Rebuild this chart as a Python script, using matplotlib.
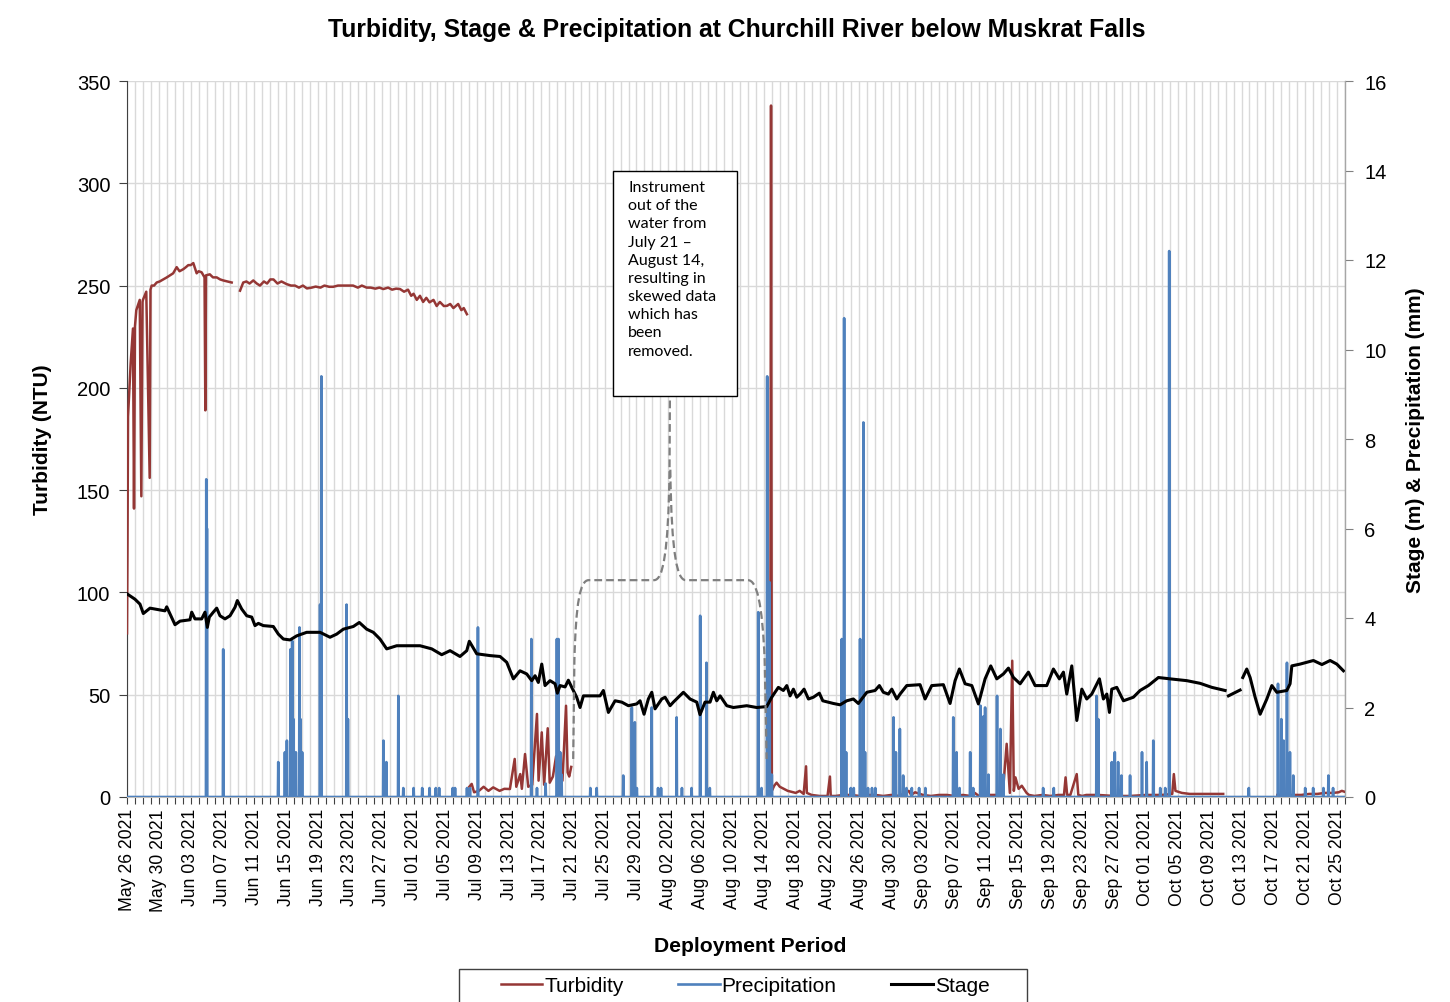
import numpy as np
import pandas as pd
import matplotlib
matplotlib.use("Agg")
import matplotlib.pyplot as plt
import matplotlib.dates as mdates
from matplotlib.path import Path
from matplotlib.patches import PathPatch, Rectangle
from matplotlib.lines import Line2D

plt.rcParams['font.family'] = ['Liberation Sans', 'DejaVu Sans']

START = pd.Timestamp("2021-05-26 00:00")
END = pd.Timestamp("2021-10-26 00:00")

# ---------------- data (day offsets from May 26 2021) ----------------
turb_days = [0.0, 0.06, 0.13, 0.46, 0.75, 0.88, 1.0, 1.17, 1.6, 1.8, 1.95, 2.0, 2.42, 2.85, 2.95, 3.1,
             3.4, 3.73, 4.1, 4.56, 5.0, 5.4, 5.8, 6.24, 6.6, 7.07, 7.4, 7.7, 8.0, 8.33, 8.75, 9.0, 9.37,
             9.74, 9.84, 9.92, 10.4, 10.8, 11.27, 11.7, 12.1, 12.6, 13.15,
             13.6,
             14.2, 14.6, 15.0, 15.4, 15.86, 16.3, 16.7, 17.2, 17.6, 18.0, 18.4, 18.9, 19.4, 20.06, 20.6,
             21.1, 21.6, 22.1, 22.6, 23.2, 23.7, 24.3, 24.8, 25.4, 25.9, 26.5, 27.0, 27.6, 28.0, 28.4,
             29.0, 29.5, 30.1, 30.6, 31.2, 31.7, 32.2, 32.8, 33.3, 33.8, 34.3, 34.8, 35.3, 35.7, 36.0,
             36.4, 36.8, 37.2, 37.6, 38.0, 38.5, 38.9, 39.3, 39.8, 40.2, 40.6, 41.0, 41.6, 42.0, 42.3, 42.7,
             42.85,
             43.0, 43.3, 43.6, 44.2, 44.8, 45.4, 46.0, 46.8, 47.4, 48.1, 48.7, 48.9, 49.4, 49.6, 50.0,
             50.4, 50.9, 51.5, 51.7, 52.1, 52.4, 52.85, 53.1, 53.5, 53.9, 54.2, 54.7, 55.15, 55.35, 55.55, 55.8,
             56.0,
             80.8, 80.9, 81.0, 81.3, 81.6, 82.0, 82.5, 83.0, 83.5, 84.0, 84.5, 85.0, 85.3, 85.4, 86.0, 87.0,
             88.0, 88.3, 88.4, 89.0, 90.0, 91.0, 92.0, 93.0, 94.0, 95.0, 96.0, 97.0, 98.2, 98.5, 99.0, 100.0,
             101.0, 102.0, 103.0, 104.0, 105.0, 106.0, 106.5, 107.0, 108.0, 109.0, 110.0, 110.5, 110.9,
             111.2, 111.4, 111.6, 112.0, 112.4, 113.0, 113.3, 114.0, 115.0, 116.0, 117.0, 117.7, 117.9, 118.1,
             118.5, 119.3, 119.5, 120.0, 120.5, 122.0, 124.0, 126.0, 128.0, 130.0, 131.3, 131.5, 131.7,
             132.5, 133.5, 134.5, 135.5, 136.5, 137.7,
             138.0,
             144.5, 145.5, 146.5, 147.5, 148.5, 149.5, 150.5, 151.5, 152.2, 152.6, 153.0]
turb_vals = [80, 120, 186, 212, 229, 141, 230, 238, 243, 147, 242, 243, 247, 156, 248, 250,
             250, 251.5, 252, 253, 254, 255, 256, 259, 257, 258, 259, 260, 260, 261, 256, 257, 256.5,
             254, 189, 255, 255.5, 254, 254, 253, 252.5, 252, 251.5,
             np.nan,
             247.5, 251.5, 252, 251, 252.5, 251, 250, 252, 251, 253, 253, 251, 252, 250.7, 250,
             250, 249, 250, 248.6, 249, 249.5, 249, 250, 249.4, 249.4, 250, 250, 250, 250, 250,
             249, 250, 249, 249, 248.5, 249, 248.3, 249, 248, 248.5, 248.3, 247, 248, 245, 246,
             243, 245, 242, 244, 241.8, 243, 240, 242, 240, 240.1, 241, 239, 241, 238, 239, 236,
             np.nan,
             5, 6.4, 2.3, 3, 5, 3, 4.7, 3, 4, 3.9, 18.6, 5, 11.2, 4, 21,
             5, 6, 40.6, 8, 31.6, 6, 33.6, 7, 10, 20, 6, 8, 44.6, 12, 10, 14.7,
             np.nan,
             2, 338, 3, 5.5, 7, 5, 4, 3, 2.5, 2, 3, 1.5, 15, 2, 1, 0.5,
             0.5, 10, 0.5, 0.5, 1, 1, 0.5, 1, 1, 0.5, 1, 0.5, 3, 1, 2.3, 1,
             0.5, 1, 1, 0.5, 1, 0.5, 2, 0.5, 1, 1, 1, 26, 2,
             66.6, 3, 9.6, 4, 5.5, 2, 1, 0.5, 1, 0.5, 1, 1, 9.6, 1,
             1, 11.2, 1, 0.5, 1, 1, 0.5, 0.5, 1, 1, 1.5, 11.2, 3,
             2, 1.5, 1.5, 1.5, 1.5, 1.5,
             np.nan,
             1, 1, 1, 1, 1.5, 1.5, 2, 2, 2.3, 3, 2.5]

stage_days = [0.0, 1.0, 1.63, 2.05, 2.89, 4.15, 4.77, 4.99, 5.40, 6.03,
              6.66, 7.91, 8.13, 8.54, 9.38, 9.80, 10.09, 10.34, 10.84, 11.27,
              11.68, 12.31, 12.94, 13.57, 13.86, 14.41, 15.04, 15.67, 16.08, 16.5,
              17.12, 18.38, 19.01, 19.64, 20.48, 21.31, 22.57, 24.25, 25.50, 26.34,
              27.17, 28.43, 29.18, 30.11, 30.94, 31.78, 32.62, 33.88, 35.14, 36.81,
              38.28, 39.53, 40.58, 41.83, 42.68, 43.0, 43.93, 45.6, 46.86, 47.7,
              48.53, 49.37, 50.21, 50.84, 51.26, 51.67, 52.10, 52.51, 53.14, 53.77,
              54.06, 54.40, 55.03, 55.44, 55.87, 56.49, 56.91, 57.33, 58.17, 59.42,
              59.84, 60.47, 61.31, 62.15, 62.98, 64.03, 64.45, 64.95, 65.49, 65.92,
              66.33, 66.75, 67.17, 67.59, 68.22, 68.63, 69.89, 70.73, 71.57, 71.98,
              72.61, 73.24, 73.66, 74.08, 74.50, 75.34, 76.17, 77.85, 79.1, 80.36,
              80.99, 81.82, 82.45, 82.88, 83.29, 83.71, 84.13, 84.55, 85.05, 85.6,
              86.22, 86.97, 87.40, 88.73, 89.57, 90.41, 91.24, 91.87, 92.93, 93.97,
              94.51, 95.01, 95.64, 96.07, 96.7, 97.11, 97.95, 99.62, 100.25, 101.09,
              102.55, 103.39, 104.02, 104.56, 105.28, 106.12, 106.95, 107.79, 108.5, 109.26,
              110.09, 110.72, 111.35, 112.19, 113.23, 114.07, 115.54, 116.37, 117.12, 117.63,
              118.05, 118.68, 119.31, 119.94, 120.56, 121.19, 122.15, 122.65, 123.08, 123.41,
              123.7, 124.33, 125.17, 126.42, 127.26, 128.3, 129.56, 131.03, 133.12, 134.8,
              136.27, 137.94, 138.1, 138.36, 139.82, 140.0, 140.16, 140.66, 141.08, 141.71,
              142.34, 143.18, 143.81, 144.43, 145.69, 146.1, 146.32, 147.36, 149.03, 150.1,
              151.13, 151.97, 152.8]
stage_vals = [4.54, 4.42, 4.31, 4.10, 4.22, 4.18, 4.16, 4.25, 4.09, 3.85,
              3.93, 3.96, 4.13, 3.98, 3.98, 4.13, 3.79, 4.02, 4.13, 4.22,
              4.05, 3.98, 4.05, 4.24, 4.39, 4.20, 4.05, 4.02, 3.83, 3.88,
              3.83, 3.81, 3.64, 3.53, 3.51, 3.60, 3.68, 3.68, 3.57, 3.64,
              3.75, 3.81, 3.90, 3.75, 3.68, 3.53, 3.31, 3.38, 3.38, 3.38,
              3.31, 3.18, 3.27, 3.14, 3.27, 3.48, 3.20, 3.16, 3.14, 3.01,
              2.64, 2.82, 2.75, 2.60, 2.71, 2.56, 2.97, 2.49, 2.60, 2.53,
              2.32, 2.49, 2.46, 2.61, 2.45, 2.23, 2.00, 2.26, 2.26, 2.26,
              2.38, 1.89, 2.15, 2.12, 2.04, 2.08, 2.15, 1.85, 2.19, 2.34,
              1.97, 2.08, 2.19, 2.23, 2.04, 2.12, 2.34, 2.19, 2.12, 1.84,
              2.12, 2.12, 2.34, 2.15, 2.26, 2.04, 2.00, 2.04, 2.00, 2.02,
              2.23, 2.45, 2.38, 2.49, 2.26, 2.41, 2.23, 2.30, 2.41, 2.19,
              2.23, 2.32, 2.15, 2.09, 2.06, 2.15, 2.19, 2.09, 2.34, 2.38,
              2.49, 2.34, 2.30, 2.41, 2.19, 2.30, 2.49, 2.51, 2.19, 2.49,
              2.51, 2.09, 2.60, 2.86, 2.53, 2.49, 2.08, 2.64, 2.93, 2.64,
              2.75, 2.88, 2.67, 2.53, 2.79, 2.49, 2.49, 2.86, 2.64, 2.79,
              2.30, 2.93, 1.71, 2.41, 2.19, 2.30, 2.64, 2.19, 2.30, 1.89,
              2.41, 2.45, 2.15, 2.23, 2.38, 2.49, 2.67, 2.64, 2.60, 2.54,
              2.45, 2.38, np.nan, 2.26, 2.39, np.nan, 2.67, 2.86, 2.67, 2.23,
              1.85, 2.19, 2.49, 2.34, 2.38, 2.53, 2.93, 2.97, 3.05, 2.96,
              3.05, 2.97, 2.82]

precip_days = [9.95, 10.05, 12.1,
               19.0, 19.85, 20.1, 20.55, 20.75, 20.9, 21.2, 21.65, 21.8, 22.0,
               24.25, 24.4, 27.6, 27.75, 32.2, 32.6, 34.1,
               34.7, 36.0, 37.1, 38.0, 38.8, 39.2, 40.9, 41.2, 42.7, 43.1,
               44.1, 51.5, 52.6, 50.8, 54.0, 54.2, 54.4, 54.6,
               58.2, 59.0, 62.35, 63.4, 63.8, 64.05, 65.9, 66.7, 67.1, 69.05, 69.7, 70.9,
               72.0, 72.8, 73.2, 79.3, 79.7, 80.4, 80.7, 81.0,
               90.9, 91.3, 89.8, 90.1, 90.35, 92.1, 92.5, 92.7, 93.1, 93.6, 94.0,
               96.3, 96.6, 97.1, 97.5, 97.9, 98.6, 99.5, 100.3,
               103.8, 104.2, 104.6, 105.9, 106.3, 107.2, 107.6, 107.8, 108.2,
               109.3, 109.7, 110.1, 115.1, 116.4, 121.8, 122.0,
               123.7, 124.1, 124.5, 124.9, 126.0, 127.5, 128.1, 128.9, 129.8, 130.4, 130.9,
               140.9, 144.6, 145.0, 145.3, 145.7, 146.1, 146.5,
               148.0, 149.0, 150.3, 150.9, 151.5]
precip_vals = [7.1, 6.0, 3.3,
               0.78, 1.0, 1.26, 3.3, 3.49, 1.74, 1.0, 3.79, 1.74, 1.0,
               4.3, 9.4, 4.3, 1.74, 1.26, 0.78, 2.26,
               0.2, 0.2, 0.2, 0.2, 0.2, 0.2, 0.2, 0.2, 0.2, 0.2,
               3.79, 0.2, 0.3, 3.53, 3.53, 3.53, 1.0, 0.5,
               0.2, 0.2, 0.48, 2.0, 1.67, 0.2, 2.0, 0.2, 0.2, 1.78, 0.2, 0.2,
               4.05, 3.0, 0.2, 4.13, 0.2, 9.4, 4.8, 0.5,
               0.2, 0.2, 3.53, 10.7, 1.0, 3.53, 8.37, 1.0, 0.2, 0.2, 0.2,
               1.78, 1.0, 1.52, 0.48, 0.2, 0.2, 0.2, 0.2,
               1.78, 1.0, 0.2, 1.0, 0.2, 2.04, 1.8, 2.0, 0.5,
               2.26, 1.52, 0.5, 0.2, 0.2, 2.26, 1.74,
               0.78, 1.0, 0.78, 0.48, 0.48, 1.0, 0.78, 1.26, 0.2, 0.2, 12.2,
               0.2, 2.53, 1.74, 1.26, 3.0, 1.0, 0.48,
               0.2, 0.2, 0.2, 0.48, 0.2]

turb_ticks = [0, 50, 100, 150, 200, 250, 300, 350]
right_ticks = [0, 2, 4, 6, 8, 10, 12, 14, 16]
label_step = "4D"

# ---------------- build series ----------------
def to_time(days):
    return START + pd.to_timedelta(np.asarray(days, dtype=float), unit="D")

turb_t = to_time(turb_days)
stage_t = to_time(stage_days)

hourly = pd.date_range(START, END, freq="h")
precip = pd.Series(0.0, index=hourly)
for d, v in zip(precip_days, precip_vals):
    precip.loc[(START + pd.Timedelta(days=d)).round("h")] = v

# ---------------- figure ----------------
W, H = 1450, 1003
fig = plt.figure(figsize=(W / 100, H / 100), dpi=100)
ax1 = fig.add_axes([127 / W, 1 - 798 / H, (1345 - 127) / W, (798 - 82) / H])
ax2 = ax1.twinx()

c_turb = "#953735"
c_prec = "#4F81BD"
c_stage = "#000000"
grid_c = "#d9d9d9"

ax1.plot(turb_t, turb_vals, color=c_turb, lw=1.8, zorder=3)
ax2.plot(precip.index, precip.values, color=c_prec, lw=1.9, zorder=2)
ax2.plot(stage_t, stage_vals, color=c_stage, lw=2.2, zorder=3)

ax1.set_xlim(START, END)
ax1.set_ylim(0, 350)
ax2.set_ylim(0, 16)
ax1.set_yticks(turb_ticks)
ax2.set_yticks(right_ticks)

ax1.set_xticks(pd.date_range(START, END, freq=label_step))
ax1.xaxis.set_minor_locator(mdates.DayLocator())
ax1.xaxis.set_major_formatter(mdates.DateFormatter("%b %d %Y"))
for lab in ax1.get_xticklabels():
    lab.set_rotation(90)
ax1.tick_params(axis="x", which="both", direction="out", length=5, width=0.8, color="#404040",
                labelsize=12.7, pad=3)
ax1.tick_params(axis="y", direction="out", length=6, width=0.8, color="#404040", labelsize=14.5, pad=6)
ax2.tick_params(axis="y", direction="out", length=6, width=0.8, color="#808080", labelsize=14.5, pad=8)

ax1.grid(True, which="minor", axis="x", color=grid_c, lw=1.0)
ax1.grid(True, which="major", axis="x", color=grid_c, lw=1.0)
ax1.grid(True, which="major", axis="y", color=grid_c, lw=1.0)
ax1.set_axisbelow(True)

for ax in (ax1, ax2):
    ax.spines["top"].set_visible(False)
ax1.spines["left"].set_color("#404040")
ax1.spines["bottom"].set_color("#bfbfbf")
ax2.spines["left"].set_visible(False)
ax2.spines["bottom"].set_visible(False)
ax2.spines["right"].set_color("#a6a6a6")

ax1.set_ylabel("Turbidity (NTU)", fontsize=15, fontweight="bold", labelpad=18)
ax2.set_ylabel("Stage (m) & Precipitation (mm)", fontsize=15, fontweight="bold", labelpad=14)
fig.text(750 / W, 1 - 947 / H, "Deployment Period", ha="center", va="center",
         fontsize=15.2, fontweight="bold")
fig.text(737 / W, 1 - 30 / H, "Turbidity, Stage & Precipitation at Churchill River below Muskrat Falls",
         ha="center", va="center", fontsize=17.8, fontweight="bold")

# ---------------- annotation: callout box with dashed brace ----------------
def dn(day):
    return mdates.date2num(START + pd.Timedelta(days=day))

verts = [(dn(56.05), 18.6), (dn(56.2), 67),
         (dn(56.4), 95), (dn(56.9), 106), (dn(58.0), 106),
         (dn(66.2), 106),
         (dn(67.3), 106), (dn(68.0), 118), (dn(68.15), 160),
         (dn(68.2), 196),
         (dn(68.25), 160),
         (dn(68.4), 118), (dn(69.1), 106), (dn(70.2), 106),
         (dn(78.0), 106),
         (dn(79.1), 106), (dn(79.8), 95), (dn(80.1), 67),
         (dn(80.35), 18.6)]
codes = [Path.MOVETO, Path.LINETO,
         Path.CURVE4, Path.CURVE4, Path.CURVE4,
         Path.LINETO,
         Path.CURVE4, Path.CURVE4, Path.CURVE4,
         Path.LINETO,
         Path.MOVETO,
         Path.CURVE4, Path.CURVE4, Path.CURVE4,
         Path.LINETO,
         Path.CURVE4, Path.CURVE4, Path.CURVE4,
         Path.LINETO]
brace = PathPatch(Path(verts, codes), facecolor="none", edgecolor="#7f7f7f", lw=1.6,
                  linestyle=(0, (3.5, 1.8)), zorder=5)
ax2.add_patch(brace)
brace.set_transform(ax1.transData)

box_x0 = (613 - 127) / 1218
box_x1 = (737 - 127) / 1218
box_y0 = (798 - 397) / 716
box_y1 = (798 - 172) / 716
ax2.add_patch(Rectangle((box_x0, box_y0), box_x1 - box_x0, box_y1 - box_y0, transform=ax2.transAxes,
                        facecolor="white", edgecolor="black", lw=1.0, zorder=6))
ax2.text((628 - 127) / 1218, (798 - 181) / 716,
         "Instrument\nout of the\nwater from\nJuly 21 \u2013\nAugust 14,\nresulting in\nskewed data\nwhich has\nbeen\nremoved.",
         transform=ax2.transAxes, ha="left", va="top", fontsize=11.5, family=["Lato", "DejaVu Sans"],
         linespacing=1.38, zorder=7)

# ---------------- legend ----------------
handles = [Line2D([], [], color=c_turb, lw=1.8), Line2D([], [], color=c_prec, lw=1.9),
           Line2D([], [], color=c_stage, lw=2.2)]
fig.legend(handles, ["Turbidity", "Precipitation", "Stage"], loc="center",
           bbox_to_anchor=(745 / W, 1 - 987 / H), ncol=3, frameon=False, fontsize=15,
           handlelength=2.0, handletextpad=0.1, columnspacing=2.6)
fig.patches.append(Rectangle((459 / W, 1 - 1012 / H), (1027 - 459) / W, 42 / H, transform=fig.transFigure,
                             facecolor="none", edgecolor="#404040", lw=1.0))

fig.savefig("out.png", dpi=100)
